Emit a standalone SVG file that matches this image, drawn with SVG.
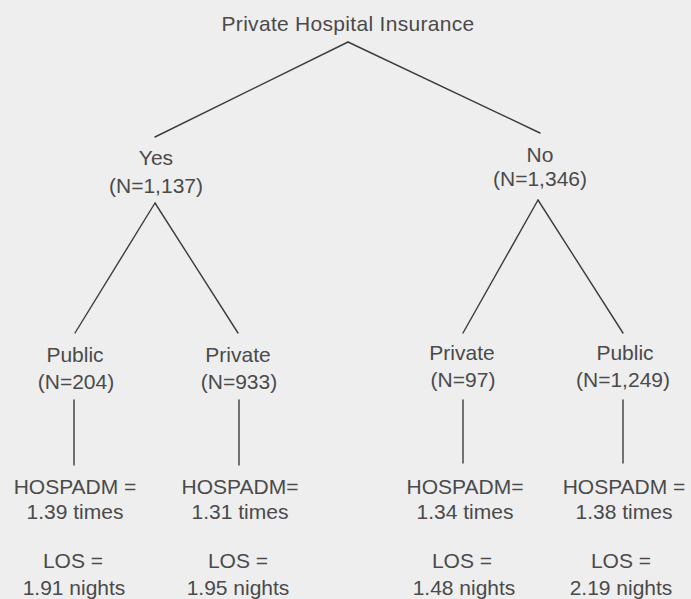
<svg xmlns="http://www.w3.org/2000/svg" width="691" height="599" viewBox="0 0 691 599">
<style>
text{font-family:"Liberation Sans",Arial,Helvetica,sans-serif;font-size:21px;fill:#4a4a4a;text-anchor:middle}
.c line{stroke:#3c3c3c;stroke-width:1.4;fill:none;stroke-linecap:round}
</style>
<rect x="0" y="0" width="691" height="599" fill="#eeeeee"/>
<g class="c" id="connectors">
<line x1="348" y1="42" x2="155" y2="137"/>
<line x1="348" y1="42" x2="540" y2="133"/>
<line x1="155" y1="203" x2="75" y2="333"/>
<line x1="155" y1="203" x2="238" y2="333"/>
<line x1="538" y1="200" x2="463" y2="333"/>
<line x1="538" y1="200" x2="623" y2="333"/>
<line x1="74" y1="400" x2="74" y2="465"/>
<line x1="239" y1="400" x2="239" y2="465"/>
<line x1="463" y1="400" x2="463" y2="463"/>
<line x1="623" y1="400" x2="623" y2="463"/>
</g>
<g id="root"><text x="348" y="31" letter-spacing="0.3">Private Hospital Insurance</text></g>
<g id="yes"><text x="156" y="165">Yes</text><text x="156" y="193">(N=1,137)</text></g>
<g id="no"><text x="540" y="162">No</text><text x="540" y="186">(N=1,346)</text></g>
<g id="yes-public"><text x="75" y="362">Public</text><text x="76" y="389">(N=204)</text></g>
<g id="yes-private"><text x="238" y="362">Private</text><text x="239" y="389">(N=933)</text></g>
<g id="no-private"><text x="462" y="360">Private</text><text x="463" y="387">(N=97)</text></g>
<g id="no-public"><text x="625" y="360">Public</text><text x="623" y="387">(N=1,249)</text></g>
<g id="res1"><text x="75" y="494">HOSPADM =</text><text x="75" y="519">1.39 times</text><text x="73" y="568">LOS =</text><text x="74" y="595">1.91 nights</text></g>
<g id="res2"><text x="240" y="494">HOSPADM=</text><text x="240" y="519">1.31 times</text><text x="238" y="568">LOS =</text><text x="238" y="595">1.95 nights</text></g>
<g id="res3"><text x="465" y="494">HOSPADM=</text><text x="465" y="519">1.34 times</text><text x="462" y="568">LOS =</text><text x="464" y="595">1.48 nights</text></g>
<g id="res4"><text x="624" y="494">HOSPADM =</text><text x="624" y="519">1.38 times</text><text x="621" y="568">LOS =</text><text x="621" y="595">2.19 nights</text></g>
</svg>
